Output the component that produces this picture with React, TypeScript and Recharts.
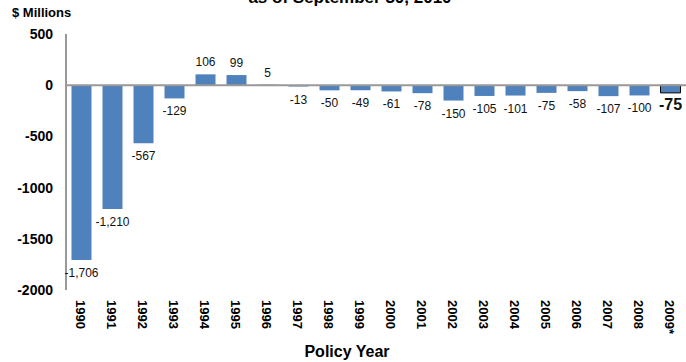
import { Bar, BarChart, Cell, LabelList, ReferenceLine, XAxis, YAxis } from 'recharts'

const years = [
  '1990', '1991', '1992', '1993', '1994', '1995', '1996', '1997', '1998', '1999',
  '2000', '2001', '2002', '2003', '2004', '2005', '2006', '2007', '2008', '2009*',
]
const values = [
  -1706, -1210, -567, -129, 106, 99, 5, -13, -50, -49,
  -61, -78, -150, -105, -101, -75, -58, -107, -100, -75,
]
const yTicks = [500, 0, -500, -1000, -1500, -2000]

const data = years.map((year, i) => ({ year, value: values[i] }))

const FONT = '"Liberation Sans", Arial, sans-serif'
const BLUE = '#4f81bd'

function fmt(v: number) {
  return v.toLocaleString('en-US')
}

function YTick({ x, y, payload }: any) {
  return (
    <text x={x - 5} y={y} dy={5} textAnchor="end" fontFamily={FONT} fontSize={14} fontWeight="bold" fill="#000">
      {payload.value}
    </text>
  )
}

function XTick({ x, y, payload }: any) {
  return (
    <text
      transform={`translate(${x - 1}, ${y + 2}) rotate(90)`}
      textAnchor="start"
      dominantBaseline="central"
      fontFamily={FONT}
      fontSize={13}
      fontWeight="bold"
      fill="#000"
    >
      {payload.value}
    </text>
  )
}

function ValueLabel(props: any) {
  const { x, y, width, height, value, index } = props
  const top = Math.min(y, y + height)
  const bottom = Math.max(y, y + height)
  const last = index === values.length - 1
  const ty = value < 0 ? Math.max(bottom + 17, 104) : top - 8
  return (
    <text
      x={x + width / 2}
      y={ty}
      textAnchor="middle"
      fontFamily={FONT}
      fontSize={last ? 16 : 12}
      fontWeight={last ? 'bold' : 'normal'}
      fill="#111"
    >
      {fmt(value)}
    </text>
  )
}

export default function App() {
  return (
    <div style={{ position: 'absolute', left: 0, top: 0, width: 686, height: 362, background: '#fff', overflow: 'hidden' }}>
      <svg width={686} height={362} style={{ position: 'absolute', left: 0, top: 0 }}>
        <text x={350} y={3} textAnchor="middle" fontFamily={FONT} fontSize={17} fontWeight="bold" fill="#000">
          as of September 30, 2010
        </text>
        <text x={12} y={17} fontFamily={FONT} fontSize={13} fontWeight="bold" fill="#000">
          $ Millions
        </text>
        <text x={347} y={357} textAnchor="middle" fontFamily={FONT} fontSize={16} fontWeight="bold" fill="#000">
          Policy Year
        </text>
      </svg>
      <div style={{ position: 'absolute', left: 0, top: 0 }}>
        <BarChart
          width={686}
          height={362}
          data={data}
          margin={{ top: 34, right: 0, left: 0, bottom: 0 }}
          barCategoryGap={5.5}
        >
          <XAxis
            dataKey="year"
            interval={0}
            axisLine={false}
            tickLine={false}
            height={72}
            tick={<XTick />}
          />
          <YAxis
            width={66}
            domain={[-2000, 500]}
            ticks={yTicks}
            interval={0}
            tickLine={false}
            axisLine={{ stroke: '#999', strokeWidth: 2 }}
            tick={<YTick />}
          />
          <ReferenceLine y={0} stroke="#999" strokeWidth={2} />
          <Bar dataKey="value" isAnimationActive={false}>
            {data.map((d, i) => (
              <Cell
                key={d.year}
                fill={BLUE}
                stroke={i === data.length - 1 ? '#000' : 'none'}
                strokeWidth={1}
              />
            ))}
            <LabelList dataKey="value" content={<ValueLabel />} />
          </Bar>
        </BarChart>
      </div>
    </div>
  )
}
